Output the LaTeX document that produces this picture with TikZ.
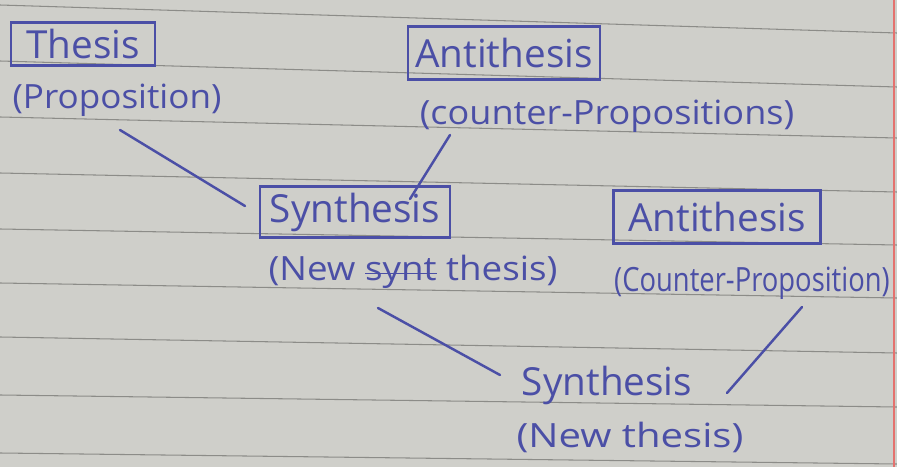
\documentclass[tikz,border=0pt]{standalone}
\usepackage{fontspec}
\setmainfont{Open Sans}
\usetikzlibrary{positioning,calc}
\definecolor{ink}{HTML}{4B4FA6}
\definecolor{paper}{HTML}{CFCFCA}
\definecolor{rule}{HTML}{8C8C88}
\newcommand{\crossout}[1]{\leavevmode\setbox0=\hbox{#1}\rlap{\copy0}\raisebox{0.35ex}{\rule{\wd0}{0.9pt}}}
\tikzset{
  head/.style={draw=ink, line width=1.4pt, text=ink, inner sep=2pt, align=center, font=\fontsize{22}{24}\selectfont},
  sub/.style={text=ink, inner sep=1pt, align=center, font=\fontsize{19}{22}\selectfont},
  link/.style={draw=ink, line width=1.4pt, line cap=round}
}
\begin{document}
\begin{tikzpicture}[x=0.2mm, y=-0.2mm]
% paper
\fill[paper] (0,0) rectangle (897,467);
\useasboundingbox (0,0) rectangle (897,467);
\foreach \l/\r in {5/33, 61/87, 117/138, 173/192, 229/245, 283/298, 337/353, 395/407, 453/464}
  \draw[rule, line width=0.6pt] (0,\l) -- (897,\r);
\draw[red!45!paper, line width=0.6pt] (894,0) -- (894,467);

% first triad
\node[head, minimum width=28.8mm, minimum height=8.6mm] (thesis) at (83,44) {Thesis};
\node[sub] (prop) at (117,100) {\scalebox{1.05}[1]{(Proposition)}};
\node[head, minimum width=38.4mm, minimum height=10.6mm] (anti) at (504,53) {Antithesis};
\node[sub] (cprops) at (607,116) {\scalebox{1.08}[1]{(counter-Propositions)}};
\node[head, minimum width=38mm, minimum height=10.2mm] (syn) at (355,212) {Synthesis};
\node[sub] (newsyn) at (413,272) {\scalebox{1.1}[1]{(New \crossout{synt} thesis)}};

% second triad
\node[head, minimum width=41.4mm, minimum height=10.6mm] (anti2) at (717,217) {Antithesis};
\node[sub] (cprop) at (752,283) {\scalebox{0.82}[1]{(Counter-Proposition)}};
\node[sub, font=\fontsize{22}{24}\selectfont] (syn2) at (607,385) {Synthesis};
\node[sub] (newth) at (630,437) {\scalebox{1.2}[1]{(New thesis)}};

% links
\draw[link] ($(prop.center)+(3,30)$) -- ($(syn.center)+(-110,-6)$);
\draw[link] ($(cprops.center)+(-157,19)$) -- ($(syn.center)+(55,-13)$);
\draw[link] ($(newsyn.center)+(-35,36)$) -- ($(syn2.center)+(-107,-10)$);
\draw[link] ($(cprop.center)+(50,24)$) -- ($(syn2.center)+(120,8)$);
\end{tikzpicture}
\end{document}
